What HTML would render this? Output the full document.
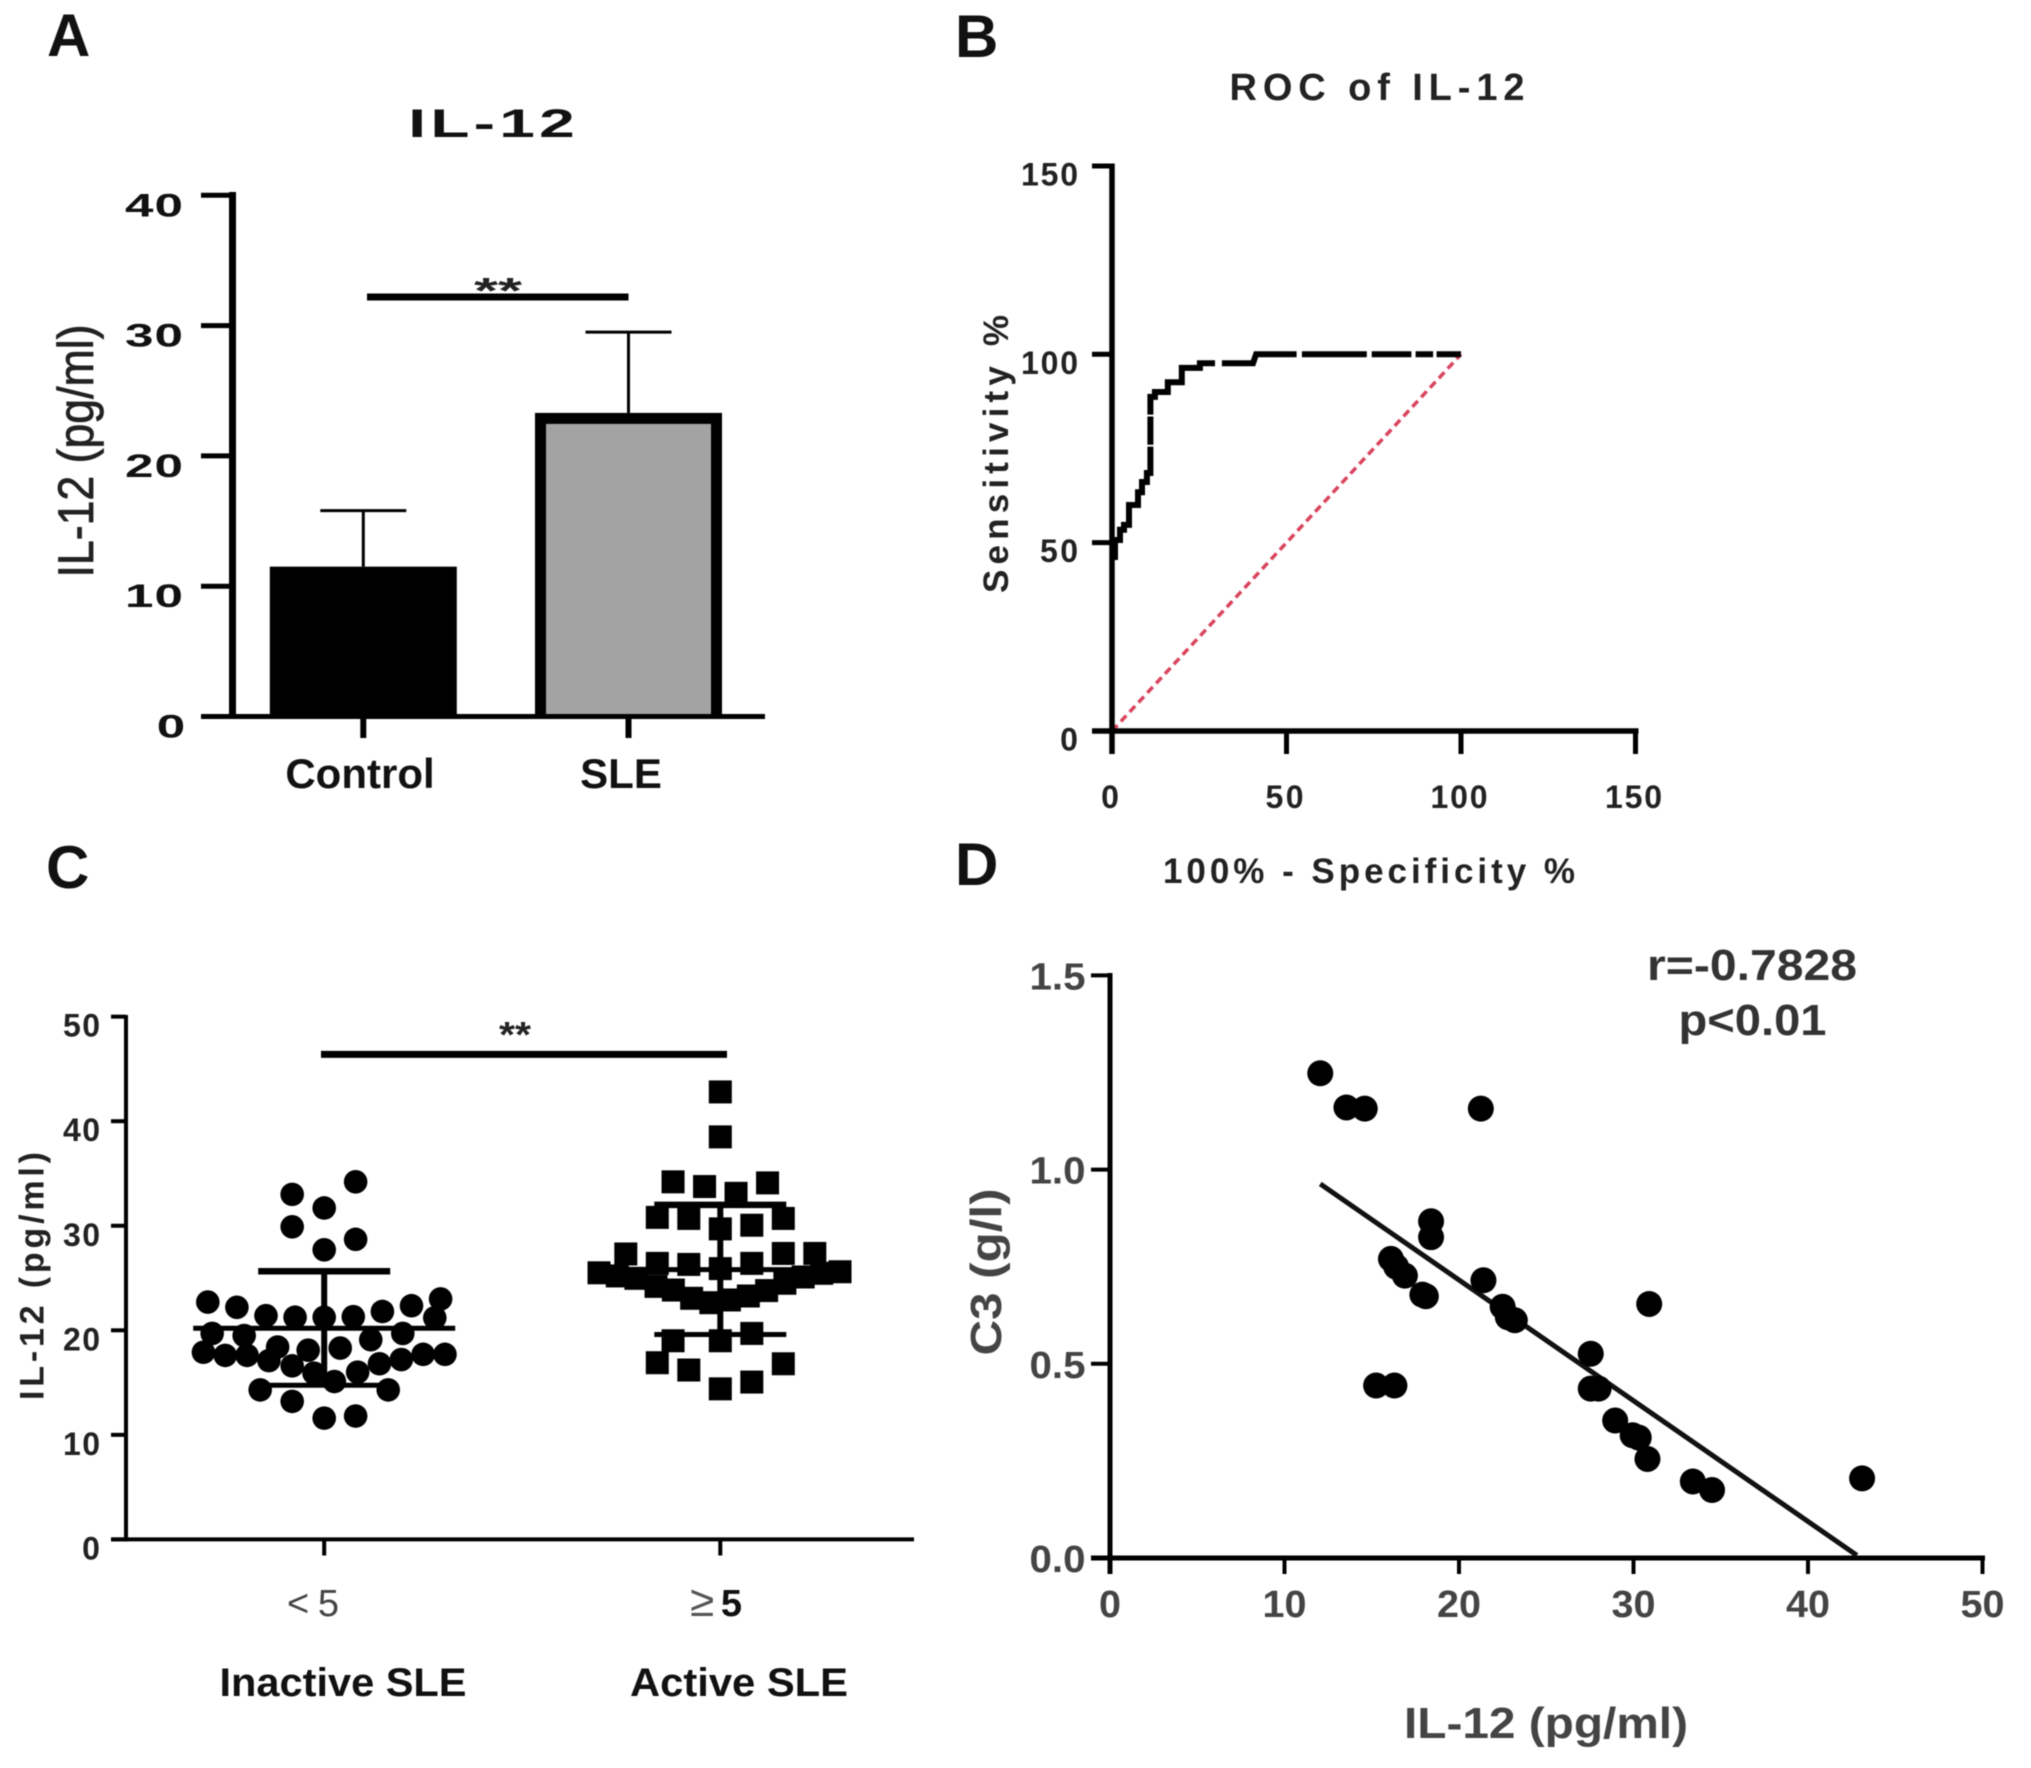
<!DOCTYPE html>
<html lang="en">
<head>
<meta charset="utf-8">
<title>IL-12 figure</title>
<style>
html,body{margin:0;padding:0;background:#fff;overflow:hidden;}
svg{display:block;font-family:"Liberation Sans",sans-serif;filter:blur(0.6px);}
</style>
</head>
<body>
<svg id="figure" width="2031" height="1768" viewBox="0 0 2031 1768" xmlns="http://www.w3.org/2000/svg">
  <rect x="0" y="0" width="2031" height="1768" fill="#ffffff"/>

  <g id="panelA">
    <text x="47" y="56" font-size="60" font-weight="700" fill="#111">A</text>
    <text transform="translate(491.5 137) scale(1.6 1)" font-size="40" font-weight="700" text-anchor="middle" textLength="104" fill="#111">IL-12</text>
    <text transform="translate(93 451) rotate(-90)" font-size="50" text-anchor="middle" textLength="253" lengthAdjust="spacingAndGlyphs" fill="#222" stroke="#222" stroke-width="0.8">IL-12 (pg/ml)</text>
    <text x="498" y="303" font-size="36" font-weight="700" text-anchor="middle" textLength="48" lengthAdjust="spacingAndGlyphs" fill="#222">**</text>
  </g>

  <g id="panelB">
    <text x="955" y="57" font-size="60" font-weight="700" fill="#111">B</text>
    <text x="1377" y="100" font-size="38" font-weight="700" text-anchor="middle" textLength="295" fill="#222">ROC of IL-12</text>
    <text transform="translate(1008 454) rotate(-90)" font-size="35" font-weight="700" text-anchor="middle" textLength="278" fill="#222">Sensitivity %</text>
    <text x="1369" y="883" font-size="35" font-weight="700" text-anchor="middle" textLength="412" fill="#222">100% - Specificity %</text>
  </g>

  <g id="panelC">
    <text x="46" y="888" font-size="60" font-weight="700" fill="#111">C</text>
    <text transform="translate(43.5 1276) rotate(-90)" font-size="34" font-weight="700" text-anchor="middle" textLength="248" fill="#222">IL-12 (pg/ml)</text>
    <text x="515" y="1047" font-size="36" font-weight="700" text-anchor="middle" textLength="32" lengthAdjust="spacingAndGlyphs" fill="#222">**</text>
    <text x="313" y="1616" font-size="38" text-anchor="middle" textLength="52" fill="#444">&lt;5</text>
    <text x="716" y="1616" font-size="38" text-anchor="middle" textLength="52" fill="#555"><tspan font-size="44">≥</tspan><tspan font-weight="700" fill="#111">5</tspan></text>
    <text x="343" y="1696" font-size="40" font-weight="700" text-anchor="middle" textLength="247" lengthAdjust="spacingAndGlyphs" fill="#111">Inactive SLE</text>
    <text x="739" y="1696" font-size="40" font-weight="700" text-anchor="middle" textLength="218" lengthAdjust="spacingAndGlyphs" fill="#111">Active SLE</text>
  </g>

  <g id="panelD">
    <text x="955" y="885" font-size="60" font-weight="700" fill="#111">D</text>
    <text transform="translate(1001 1272) rotate(-90)" font-size="44" font-weight="700" text-anchor="middle" textLength="167" lengthAdjust="spacingAndGlyphs" fill="#444">C3 (g/l)</text>
    <text x="1546" y="1738" font-size="44" font-weight="700" text-anchor="middle" textLength="284" lengthAdjust="spacingAndGlyphs" fill="#444">IL-12 (pg/ml)</text>
    <text x="1752" y="980" font-size="44" font-weight="700" text-anchor="middle" textLength="210" lengthAdjust="spacingAndGlyphs" fill="#333">r=-0.7828</text>
    <text x="1752.5" y="1035" font-size="44" font-weight="700" text-anchor="middle" textLength="148" lengthAdjust="spacingAndGlyphs" fill="#333">p&lt;0.01</text>
  </g>
</svg>

<script>
/* ---------- Panel A data ---------- */
const barCategories = ['Control', 'SLE'];
const barMeans = [11.5, 23.3];
const barErrors = [4.3, 6.2];
const barTicks = [0, 10, 20, 30, 40];

/* ---------- Panel B data ---------- */
const rocTicks = [0, 50, 100, 150];
const rocSpecificity = [0.86,0.86,2.3,2.3,3.44,3.44,4.87,4.87,7.45,7.45,8.6,8.6,10,10,11,11,null,11,11,null,11,11,12.3,12.3,16,16,20,20,25.2,25.2,29.5,null,31.5,40.4,41.3,52.9,null,54.4,73,null,74.4,85.8,null,87,92,null,93,100];
const rocSensitivity = [45.4,50.7,50.7,53.4,53.4,54.7,54.7,60,60,63.4,63.4,66.1,66.1,68.5,68.5,75.5,null,76,83.5,null,84,88.7,88.7,90,90,92.6,92.6,96.4,96.4,97.6,97.6,null,97.6,97.6,100,100,null,100,100,null,100,100,null,100,100,null,100,100];
const referenceLine = [0, 100];

/* ---------- Panel C data ---------- */
const swarmTicks = [0, 10, 20, 30, 40, 50];
const swarmCategories = ['inactive', 'active'];
const inactiveValues = [34.2,33.0,31.7,29.9,28.7,27.7,22.7,22.2,21.4,21.25,21.25,21.3,21.8,22.35,23.0,21.2,19.7,19.5,18.4,18.1,18.3,19.1,19.7,17.9,17.6,17.6,17.1,16.6,15.9,15.1,16.0,16.8,17.2,17.7,17.7,14.3,14.3,13.2,11.6,11.8];
const inactiveSlots = [1.08,-1.1,0,-1.1,1.08,0,-4,-3,-2,-1,0,1,2,3,4,3.8,-3.85,-2.75,-1.6,-0.55,0.55,1.6,2.7,-4.15,-3.4,-2.65,-1.9,-1.1,-0.35,0.35,1.15,1.9,2.65,3.4,4.15,-2.2,2.2,-1.1,0,1.08];
const activeValues = [42.8,38.5,34.2,33.75,33.1,34.1,30.8,30.7,29.7,30.05,30.7,27.3,26.4,26.3,25.9,26.4,27.35,27.35,25.5,25.2,24.97,24.2,23.85,23.06,22.64,22.9,23.28,23.8,24.5,25.1,25.45,25.6,19.0,19.0,19.7,16.9,16.2,16.8,14.4,15.05];
const activeSlots = [0,0,-1.5,-0.5,0.5,1.5,-2,-1,0,1,2,-3,-2,-1,0,1,2,3,-3.85,-3.27,-2.68,-2.04,-1.49,-0.91,-0.3,0.29,0.89,1.47,2.05,2.63,3.22,3.8,-1.5,0,1,-2,-1,2,0,1];
const swarmMeans = [20.2, 25.8];
const swarmSDs = [5.45, 6.2];

/* ---------- Panel D data ---------- */
const scatterXTicks = [0, 10, 20, 30, 40, 50];
const scatterYTicks = [0, 0.5, 1, 1.5];
const scatterX = [12.05,13.55,14.6,21.25,18.4,18.4,16.1,16.4,16.9,17.9,18.1,21.4,22.5,22.8,23.2,30.9,27.55,27.55,28.0,15.25,16.3,28.95,29.95,30.3,30.8,33.4,34.5,43.1];
const scatterY = [1.248,1.16,1.157,1.157,0.867,0.826,0.77,0.75,0.727,0.678,0.674,0.715,0.647,0.62,0.612,0.654,0.526,0.436,0.436,0.444,0.444,0.354,0.316,0.31,0.255,0.197,0.175,0.205];
const fitX = [12.05, 42.8];
const fitY = [0.963, 0.007];

/* ---------- Helpers ---------- */
const NS = 'http://www.w3.org/2000/svg';
function mk(parent, tag, attrs, name) {
  const el = document.createElementNS(NS, tag);
  for (const k in attrs) el.setAttribute(k, attrs[k]);
  
  
  parent.appendChild(el);
  return el;
}
function seg(parent, x1, y1, x2, y2, w, name, color) {
  return mk(parent, 'line', {x1: x1, y1: y1, x2: x2, y2: y2, stroke: color || '#000', 'stroke-width': w}, name);
}
function label(parent, x, y, str, attrs, name) {
  const el = mk(parent, 'text', Object.assign({x: x, y: y}, attrs), name);
  el.textContent = str;
  return el;
}

/* ---------- Panel A ---------- */
(function () {
  const g = document.getElementById('panelA');
  const y = v => 716.5 - v * 13.03;
  const x = i => 363.3 + 265.2 * i;
  const barW = 187;
  barMeans.forEach((m, i) => {
    const cap = m + barErrors[i];
    seg(g, x(i), y(m), x(i), y(cap), 3, 'error-stem-' + barCategories[i].toLowerCase());
    seg(g, x(i) - 43, y(cap), x(i) + 43, y(cap), 3, 'error-cap-' + barCategories[i].toLowerCase());
    if (i === 0) {
      const bar = mk(g, 'rect', {x: x(i) - barW / 2, y: y(m), width: barW, height: y(0) - y(m), fill: '#000'}, 'bar-control');
      bar.setAttribute('data-value', m);
    } else {
      const bar = mk(g, 'rect', {x: x(i) - barW / 2, y: y(m), width: barW, height: y(0) - y(m), fill: '#000'}, 'bar-sle');
      bar.setAttribute('data-value', m);
      mk(g, 'rect', {x: x(i) - barW / 2 + 11, y: y(m) + 11, width: barW - 22, height: y(0) - y(m) - 11, fill: '#a3a3a3'}, 'bar-sle-fill');
    }
  });
  seg(g, 232.5, 192, 232.5, 719, 7, 'y-axis-line');
  seg(g, 201, 716.5, 765, 716.5, 5, 'x-axis-line');
  barTicks.forEach(t => {
    seg(g, 201, y(t), 232, y(t), 5, 'y-tick');
    const s = String(t);
    const w = s.length === 1 ? 24 : 58;
    const attrs = {transform: 'translate(' + (183 - w / 2) + ' ' + (y(t) + 21) + ') scale(1.6 1)', 'font-size': 32, 'font-weight': 700, 'text-anchor': 'middle', fill: '#111'};
    if (s.length > 1) attrs.textLength = w / 1.6;
    label(g, 0, 0, s, attrs, 'y-tick-label');
  });
  const catOffsets = [-3.3, -7.5];
  barCategories.forEach((c, i) => {
    seg(g, x(i), 716.5, x(i), 738, 6, 'x-tick');
    label(g, x(i) + catOffsets[i], 788, c, {'font-size': 42, 'font-weight': 700, 'text-anchor': 'middle', fill: '#111'}, 'x-tick-label');
  });
  seg(g, 367, 297, x(1), 297, 7, 'significance-bar');
})();

/* ---------- Panel B ---------- */
(function () {
  const g = document.getElementById('panelB');
  const x = v => 1112 + v * 3.49;
  const y = v => 731 - v * 3.767;
  mk(g, 'line', {x1: x(referenceLine[0]), y1: y(referenceLine[0]), x2: x(referenceLine[1]), y2: y(referenceLine[1]), stroke: '#d9445e', 'stroke-width': 3.5, 'stroke-dasharray': '8 5'}, 'reference-diagonal');
  seg(g, 1112, 163.5, 1112, 754, 5.5, 'y-axis-line');
  seg(g, 1092, 731, 1638.5, 731, 5.5, 'x-axis-line');
  const wMap = {1: 18, 2: 38, 3: 57};
  rocTicks.forEach(t => {
    seg(g, 1092, y(t), 1112, y(t), 5, 'y-tick');
    seg(g, x(t), 731, x(t), 754, 5, 'x-tick');
    const s = String(t);
    label(g, 1078 - wMap[s.length] / 2, y(t) + 19.5, s, {'font-size': 32, 'font-weight': 700, 'text-anchor': 'middle', textLength: wMap[s.length], fill: '#222'}, 'y-tick-label');
    label(g, x(t) - 2, 808, s, {'font-size': 32, 'font-weight': 700, 'text-anchor': 'middle', textLength: wMap[s.length], fill: '#222'}, 'x-tick-label');
  });
  let d = '';
  let pen = false;
  rocSpecificity.forEach((v, i) => {
    const w = rocSensitivity[i];
    if (v === null || w === null) { pen = false; return; }
    d += (pen ? 'L' : 'M') + x(v).toFixed(1) + ' ' + y(w).toFixed(1) + ' ';
    pen = true;
  });
  mk(g, 'path', {d: d, fill: 'none', stroke: '#000', 'stroke-width': 6, 'stroke-linejoin': 'miter'}, 'roc-curve');
})();

/* ---------- Panel C ---------- */
(function () {
  const g = document.getElementById('panelC');
  const y = v => 1539.4 - v * 10.455;
  const centers = [324.2, 720.3];
  const slotW = [29.1, 31.5];
  const xs = (c, s) => centers[c] + s * slotW[c];
  seg(g, 126, 1015, 126, 1541.5, 4, 'y-axis-line');
  seg(g, 111, 1539.4, 914, 1539.4, 4, 'x-axis-line');
  swarmTicks.forEach(t => {
    seg(g, 111, y(t), 126, y(t), 4, 'y-tick');
    const s = String(t);
    const w = s.length === 1 ? 18 : 37;
    label(g, 100 - w / 2, y(t) + 20, s, {'font-size': 32, 'font-weight': 700, 'text-anchor': 'middle', textLength: w, fill: '#222'}, 'y-tick-label');
  });
  swarmCategories.forEach((c, i) => {
    seg(g, centers[i], 1539.4, centers[i], 1555.5, 4, 'x-tick');
  });
  seg(g, 321, 1054.4, 727, 1054.4, 7, 'significance-bar');
  inactiveValues.forEach((v, i) => {
    mk(g, 'circle', {cx: xs(0, inactiveSlots[i]), cy: y(v), r: 11.8, fill: '#000'}, 'inactive-sle-point');
  });
  activeValues.forEach((v, i) => {
    mk(g, 'rect', {x: xs(1, activeSlots[i]) - 11.5, y: y(v) - 11.5, width: 23, height: 23, fill: '#000'}, 'active-sle-point');
  });
  swarmMeans.forEach((m, i) => {
    const c = centers[i];
    const sd = swarmSDs[i];
    seg(g, c, y(m + sd), c, y(m - sd), 6, 'error-stem-' + swarmCategories[i]);
    seg(g, c - 131, y(m), c + 131, y(m), 5, 'mean-line-' + swarmCategories[i]);
    seg(g, c - 66, y(m + sd), c + 66, y(m + sd), 6.5, 'sd-cap-upper-' + swarmCategories[i]);
    seg(g, c - 66, y(m - sd), c + 66, y(m - sd), 5, 'sd-cap-lower-' + swarmCategories[i]);
  });
})();

/* ---------- Panel D ---------- */
(function () {
  const g = document.getElementById('panelD');
  const x = v => 1110 + v * 17.45;
  const y = v => 1558 - v * 388.4;
  seg(g, 1110, 973, 1110, 1574, 5, 'y-axis-line');
  seg(g, 1091, 1558, 1985, 1558, 5, 'x-axis-line');
  scatterYTicks.forEach(t => {
    seg(g, 1091, y(t), 1110, y(t), 4, 'y-tick');
    label(g, 1057.5, y(t) + 14, t.toFixed(1), {'font-size': 38, 'font-weight': 700, 'text-anchor': 'middle', textLength: 56, lengthAdjust: 'spacingAndGlyphs', fill: '#444'}, 'y-tick-label');
  });
  scatterXTicks.forEach(t => {
    seg(g, x(t), 1558, x(t), 1574, 4, 'x-tick');
    const s = String(t);
    label(g, x(t), 1617, s, {'font-size': 38, 'font-weight': 700, 'text-anchor': 'middle', textLength: s.length === 1 ? 22 : 44, lengthAdjust: 'spacingAndGlyphs', fill: '#444'}, 'x-tick-label');
  });
  mk(g, 'line', {x1: x(fitX[0]), y1: y(fitY[0]), x2: x(fitX[1]), y2: y(fitY[1]), stroke: '#111', 'stroke-width': 5}, 'regression-line');
  scatterX.forEach((v, i) => {
    mk(g, 'circle', {cx: x(v), cy: y(scatterY[i]), r: 13, fill: '#000'}, 'scatter-point');
  });
})();
</script>
</body>
</html>
